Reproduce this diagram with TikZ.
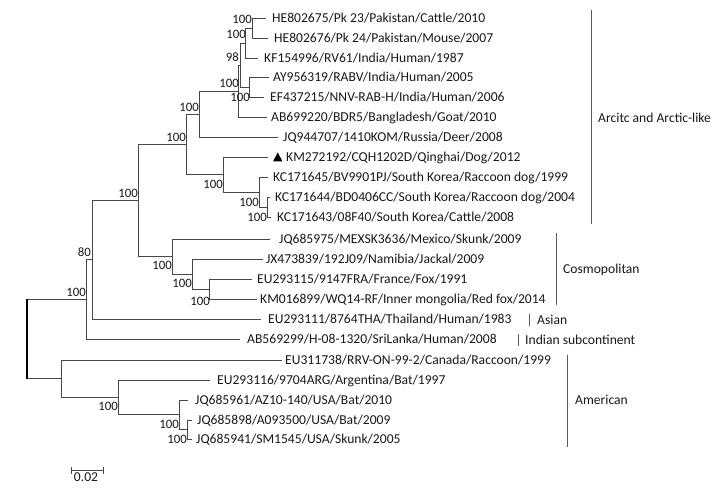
\documentclass[tikz,border=0pt]{standalone}
\usepackage{fontspec}
\setmainfont{Carlito}
\begin{document}
\begin{tikzpicture}[x=1pt,y=-1pt,
  tree/.style={draw=black!72, line width=0.9pt},
  rootline/.style={draw=black, line width=1.6pt},
  leaf/.style={anchor=base west, inner sep=0pt, text=black!90, font=\fontsize{13.6}{16}\selectfont},
  boot/.style={anchor=base east, inner sep=0pt, text=black!90, font=\fontsize{12.8}{15}\selectfont},
  cbar/.style={draw=black!65, line width=1pt},
  clade/.style={anchor=base west, inner sep=0pt, text=black!90, font=\fontsize{13.6}{16}\selectfont}]
\useasboundingbox (0,0) rectangle (718,494);
\fill[white] (0,0) rectangle (718,494);
% leaf tips
\coordinate (t1) at (266,18);
\coordinate (t2) at (268,38);
\coordinate (t3) at (258,58);
\coordinate (t4) at (269,77);
\coordinate (t5) at (264,97);
\coordinate (t6) at (267,117);
\coordinate (t7) at (278,137);
\coordinate (t8) at (268,157);
\coordinate (t9) at (268,177);
\coordinate (t10) at (270,197);
\coordinate (t11) at (271,217);
\coordinate (t12) at (270,239);
\coordinate (t13) at (263,259);
\coordinate (t14) at (252,279);
\coordinate (t15) at (257,299);
\coordinate (t16) at (261,319);
\coordinate (t17) at (240,339);
\coordinate (t18) at (282,360);
\coordinate (t19) at (210,380);
\coordinate (t20) at (188,400);
\coordinate (t21) at (192,420);
\coordinate (t22) at (192,439);
% internal nodes
\coordinate (nA) at (252,28);
\coordinate (nB) at (245,43);
\coordinate (nD) at (249,87);
\coordinate (nC) at (240,65);
\coordinate (nE) at (238,91);
\coordinate (nF) at (199,114);
\coordinate (nJ) at (267,207);
\coordinate (nI) at (259,192);
\coordinate (nH) at (223,174.5);
\coordinate (nG) at (186,144.25);
\coordinate (nT) at (209,289);
\coordinate (nS) at (192,274);
\coordinate (nK) at (172,256.5);
\coordinate (nL) at (138,200.4);
\coordinate (nM) at (92,259.7);
\coordinate (nN) at (86,299.35);
\coordinate (nR) at (187,429.5);
\coordinate (nQ) at (179,414.75);
\coordinate (nP) at (118,397.4);
\coordinate (nO) at (61,378.7);
\coordinate (root) at (27,339);
% branches
\draw[tree] (nA) |- (t1); \draw[tree] (nA) |- (t2);
\draw[tree] (nB) |- (nA); \draw[tree] (nB) |- (t3);
\draw[tree] (nD) |- (t4); \draw[tree] (nD) |- (t5);
\draw[tree] (nC) |- (nB); \draw[tree] (nC) |- (nD);
\draw[tree] (nE) |- (nC); \draw[tree] (nE) |- (t6);
\draw[tree] (nF) |- (nE); \draw[tree] (nF) |- (t7);
\draw[tree] (nG) |- (nF); \draw[tree] (nG) |- (nH);
\draw[tree] (nH) |- (t8); \draw[tree] (nH) |- (nI);
\draw[tree] (nI) |- (t9); \draw[tree] (nI) |- (nJ);
\draw[tree] (nJ) |- (t10); \draw[tree] (nJ) |- (t11);
\draw[tree] (nL) |- (nG); \draw[tree] (nL) |- (nK);
\draw[tree] (nK) |- (t12); \draw[tree] (nK) |- (nS);
\draw[tree] (nS) |- (t13); \draw[tree] (nS) |- (nT);
\draw[tree] (nT) |- (t14); \draw[tree] (nT) |- (t15);
\draw[tree] (nM) |- (nL); \draw[tree] (nM) |- (t16);
\draw[tree] (nN) |- (nM); \draw[tree] (nN) |- (t17);
\draw[tree] (nO) |- (t18); \draw[tree] (nO) |- (nP);
\draw[tree] (nP) |- (t19); \draw[tree] (nP) |- (nQ);
\draw[tree] (nQ) |- (t20); \draw[tree] (nQ) |- (nR);
\draw[tree] (nR) |- (t21); \draw[tree] (nR) |- (t22);
\draw[tree] (root) |- (nN); \draw[tree] (root) |- (nO);
\draw[rootline] (root |- nN) -- (root |- nO);
% leaf labels
\node[leaf] (l1) at (272,22.4) {HE802675/Pk 23/Pakistan/Cattle/2010};
\node[leaf] (l2) at (274,42.4) {HE802676/Pk 24/Pakistan/Mouse/2007};
\node[leaf] (l3) at (264,62.4) {KF154996/RV61/India/Human/1987};
\node[leaf] (l4) at (273,81.4) {AY956319/RABV/India/Human/2005};
\node[leaf] (l5) at (270,101.4) {EF437215/NNV-RAB-H/India/Human/2006};
\node[leaf] (l6) at (271,121.4) {AB699220/BDR5/Bangladesh/Goat/2010};
\node[leaf] (l7) at (283,141.4) {JQ944707/1410KOM/Russia/Deer/2008};
\fill[black] (273,161.5) -- (282.5,161.5) -- (277.75,152.5) -- cycle;
\node[leaf] (l8) at (286,161.4) {KM272192/CQH1202D/Qinghai/Dog/2012};
\node[leaf] (l9) at (273,181.4) {KC171645/BV9901PJ/South Korea/Raccoon dog/1999};
\node[leaf] (l10) at (275,201.4) {KC171644/BD0406CC/South Korea/Raccoon dog/2004};
\node[leaf] (l11) at (277,221.4) {KC171643/08F40/South Korea/Cattle/2008};
\node[leaf] (l12) at (279,243.4) {JQ685975/MEXSK3636/Mexico/Skunk/2009};
\node[leaf] (l13) at (266,263.4) {JX473839/192J09/Namibia/Jackal/2009};
\node[leaf] (l14) at (257,283.4) {EU293115/9147FRA/France/Fox/1991};
\node[leaf] (l15) at (260,303.4) {KM016899/WQ14-RF/Inner mongolia/Red fox/2014};
\node[leaf] (l16) at (268,323.4) {EU293111/8764THA/Thailand/Human/1983};
\node[leaf] (l17) at (247,343.4) {AB569299/H-08-1320/SriLanka/Human/2008};
\node[leaf] (l18) at (285,364.4) {EU311738/RRV-ON-99-2/Canada/Raccoon/1999};
\node[leaf] (l19) at (217,384.4) {EU293116/9704ARG/Argentina/Bat/1997};
\node[leaf] (l20) at (195,404.4) {JQ685961/AZ10-140/USA/Bat/2010};
\node[leaf] (l21) at (197,424.4) {JQ685898/A093500/USA/Bat/2009};
\node[leaf] (l22) at (196,443.4) {JQ685941/SM1545/USA/Skunk/2005};
% bootstrap values
\node[boot] (bA) at (252,23.2) {100};
\node[boot] (bB) at (246,38.2) {100};
\node[boot] (bC) at (239,61.2) {98};
\node[boot] (bE) at (239,87.2) {100};
\node[boot] (bD) at (250,101.2) {100};
\node[boot] (bF) at (199,111.2) {100};
\node[boot] (bG) at (186,141.2) {100};
\node[boot] (bL) at (138,197.2) {100};
\node[boot] (bH) at (223,188.2) {100};
\node[boot] (bI) at (259,206.2) {100};
\node[boot] (bJ) at (267,221.2) {100};
\node[boot] (bK) at (172,269.2) {100};
\node[boot] (bS) at (192,287.2) {100};
\node[boot] (bT) at (210,305.2) {100};
\node[boot] (bM) at (91,256.2) {80};
\node[boot] (bN) at (86,296.2) {100};
\node[boot] (bP) at (118,410.2) {100};
\node[boot] (bQ) at (179,428.2) {100};
\node[boot] (bR) at (187,443.2) {100};
% clade bars
\coordinate (c1a) at (591,10); \coordinate (c1b) at (591,224);
\coordinate (c2a) at (556,233); \coordinate (c2b) at (556,305);
\coordinate (c3a) at (529,314); \coordinate (c3b) at (529,326);
\coordinate (c4a) at (518,334); \coordinate (c4b) at (518,346);
\coordinate (c5a) at (567,355); \coordinate (c5b) at (567,447);
\draw[cbar] (c1a) -- (c1b);
\draw[cbar] (c2a) -- (c2b);
\draw[cbar] (c3a) -- (c3b);
\draw[cbar] (c4a) -- (c4b);
\draw[cbar] (c5a) -- (c5b);
\node[clade] (k1) at (598,122.4) {Arcitc and Arctic-like};
\node[clade] (k2) at (563,273.4) {Cosmopolitan};
\node[clade] (k3) at (537,324.4) {Asian};
\node[clade] (k4) at (525,344.4) {Indian subcontinent};
\node[clade] (k5) at (575,404.4) {American};
% scale bar
\coordinate (s1) at (71,470); \coordinate (s2) at (103,470);
\draw[tree, line width=0.8pt] (s1) -- (s2);
\draw[tree, line width=0.8pt] ([yshift=-3.5pt]s1) -- ([yshift=3pt]s1);
\draw[tree, line width=0.8pt] ([yshift=-3.5pt]s2) -- ([yshift=3pt]s2);
\node[leaf, anchor=base] (sl) at (86,481.4) {0.02};
\end{tikzpicture}
\end{document}
